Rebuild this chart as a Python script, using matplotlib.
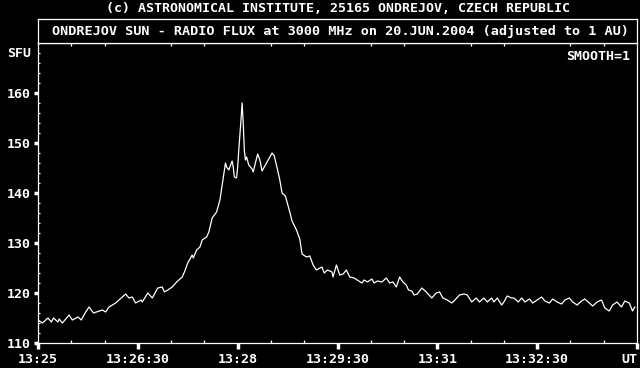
import numpy as np
import matplotlib
matplotlib.use('Agg')
import matplotlib.pyplot as plt
from matplotlib.ticker import MultipleLocator

# --- data: seconds after 13:25:00 UT, flux in SFU ---
sec = [0, 4, 9, 12, 14, 18, 19, 22, 28, 31, 36, 39, 43, 46, 50, 58, 61, 64, 70, 75,
       79, 82, 85, 88, 93, 94, 99, 103, 108, 112, 114, 117, 121, 125, 130, 132, 135, 139, 140, 143,
       146, 148, 152, 154, 157, 161, 164, 166, 167, 169, 170, 172, 175, 176, 177, 179, 180, 181, 183, 184,
       185, 186, 187, 188, 190, 193, 194, 198, 200, 202, 206, 211, 213, 216, 218, 220, 223, 227, 229, 233,
       236, 238, 242, 245, 248, 251, 256, 258, 261, 265, 266, 269, 272, 275, 278, 281, 285, 292, 294, 297,
       301, 303, 306, 310, 314, 317, 320, 323, 326, 329, 332, 334, 337, 339, 342, 346, 350, 355, 359, 362,
       365, 369, 373, 375, 380, 384, 387, 391, 395, 398, 402, 405, 409, 411, 414, 418, 420, 423, 427, 429,
       433, 436, 439, 443, 446, 450, 454, 457, 461, 464, 468, 472, 475, 479, 482, 486, 490, 493, 497, 500,
       504, 508, 511, 515, 518, 522, 526, 529, 533, 536, 538]
sfu = [114.6, 114.0, 115.0, 114.2, 115.0, 114.2, 114.8, 114.0, 115.6, 114.6, 115.2, 114.6, 116.2, 117.2, 116.0, 116.6, 116.2, 117.2, 118.0, 119.0,
       119.8, 119.0, 119.2, 118.0, 118.6, 118.2, 120.0, 119.0, 121.0, 121.2, 120.2, 120.6, 121.2, 122.2, 123.2, 124.2, 126.0, 127.6, 127.0, 128.6,
       129.2, 130.6, 131.2, 132.2, 135.0, 136.2, 138.6, 141.6, 143.0, 146.0, 145.2, 144.6, 146.4, 145.2, 143.2, 143.0, 145.2, 148.6, 154.6, 158.0,
       154.0, 148.6, 146.6, 147.2, 145.6, 144.8, 144.2, 147.8, 146.6, 144.4, 146.0, 148.0, 147.4, 144.6, 142.6, 140.0, 139.4, 136.2, 134.4, 132.6,
       130.8, 127.8, 127.2, 127.4, 125.6, 124.6, 125.2, 124.0, 124.6, 124.2, 123.2, 125.6, 123.6, 123.8, 124.6, 123.2, 123.0, 122.0, 122.6, 122.2,
       122.8, 122.0, 122.4, 122.2, 123.0, 122.0, 122.2, 121.2, 123.2, 122.2, 121.6, 120.6, 120.4, 119.6, 119.8, 121.0, 120.2, 119.0, 120.0, 120.2,
       119.0, 118.6, 118.0, 118.4, 119.6, 119.8, 119.6, 118.2, 119.0, 118.2, 119.0, 118.2, 119.0, 118.2, 119.0, 117.6, 118.2, 119.4, 119.0, 119.0,
       118.2, 119.0, 118.2, 118.8, 118.0, 118.6, 119.2, 118.4, 118.0, 118.8, 118.2, 117.8, 118.6, 119.0, 118.2, 117.6, 118.4, 118.8, 118.0, 117.4,
       118.2, 118.6, 117.0, 116.4, 117.6, 118.2, 117.2, 118.4, 118.0, 116.4, 117.2]

xtick_sec = [0, 90, 180, 270, 360, 450, 540]
xtick_lab = ['13:25', '13:26:30', '13:28', '13:29:30', '13:31', '13:32:30', 'UT']
ytick_val = [110, 120, 130, 140, 150, 160]

font = 'DejaVu Sans Mono'
fs = 9.5

fig = plt.figure(figsize=(6.4, 3.68), dpi=100, facecolor='black')
W, H = 640, 368

# hlavni graf
ax = fig.add_axes([38 / W, (H - 343) / H, 599 / W, 300 / H], facecolor='black')
ax.plot(sec, sfu, color='white', lw=0.9)
ax.set_xlim(0, 540)
ax.set_ylim(110, 170)
for s in ax.spines.values():
    s.set_color('white')
    s.set_linewidth(0.9)

ax.set_xticks(xtick_sec)
ax.set_xticklabels(xtick_lab, family=font, fontweight='bold', fontsize=fs, color='white')
ax.get_xticklabels()[-1].set_ha('right')
ax.xaxis.set_minor_locator(MultipleLocator(30))
ax.set_yticks(ytick_val)
ax.set_yticklabels([str(v) for v in ytick_val], family=font, fontweight='bold', fontsize=fs, color='white')
ax.yaxis.set_minor_locator(MultipleLocator(2))

ax.tick_params(axis='x', which='major', direction='out', length=4, width=2.5, color='white', pad=3)
ax.tick_params(axis='x', which='minor', direction='in', length=2, width=0.9, color='white', top=True)
ax.tick_params(axis='y', which='major', direction='out', length=3, width=2.5, color='white', pad=2)
ax.tick_params(axis='y', which='minor', direction='in', length=1.5, width=0.9, color='white')

ax.text(-0.011, 0.965, 'SFU', transform=ax.transAxes, ha='right', va='center',
        family=font, fontweight='bold', fontsize=fs, color='white')
ax.text(0.988, 0.955, 'SMOOTH=1', transform=ax.transAxes, ha='right', va='center',
        family=font, fontweight='bold', fontsize=fs, color='white')

# ramecek s nadpisem
tax = fig.add_axes([38 / W, (H - 43) / H, 599 / W, 24 / H], facecolor='black')
tax.set_xticks([])
tax.set_yticks([])
for s in tax.spines.values():
    s.set_color('white')
    s.set_linewidth(0.9)
tax.text(0.505, 0.5, 'ONDREJOV SUN - RADIO FLUX at 3000 MHz on 20.JUN.2004 (adjusted to 1 AU)',
         ha='center', va='center', family=font, fontweight='bold', fontsize=9.7, color='white')

fig.text(337.5 / W, 1 - 8 / H, '(c) ASTRONOMICAL INSTITUTE, 25165 ONDREJOV, CZECH REPUBLIC',
         ha='center', va='center', family=font, fontweight='bold', fontsize=9.5, color='white')

fig.savefig('out.png', dpi=100, facecolor='black')
